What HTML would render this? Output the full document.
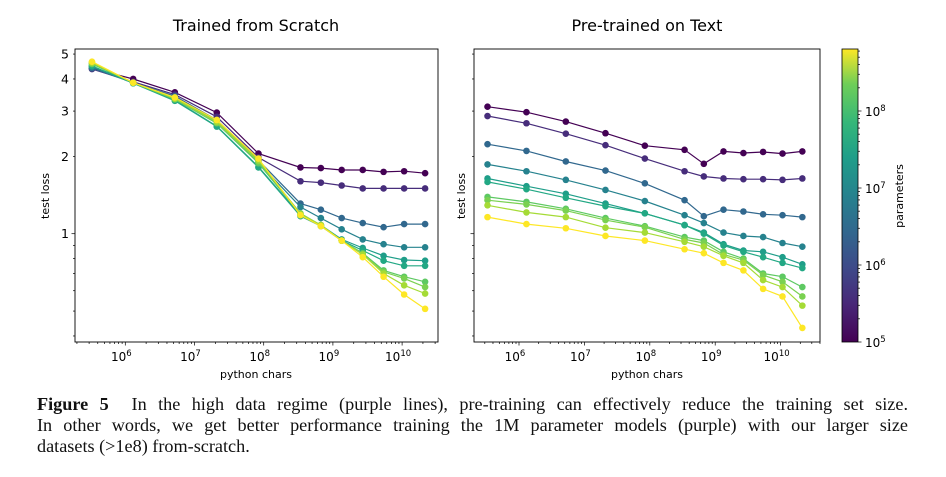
<!DOCTYPE html>
<html><head><meta charset="utf-8">
<style>
body{margin:0;background:#fff;width:946px;height:477px;overflow:hidden;position:relative;font-family:"DejaVu Sans","Liberation Sans",sans-serif}
#cap{position:absolute;left:37px;top:394px;width:871px;font-family:"Liberation Serif",serif;font-size:18.2px;line-height:21px;color:#111}
#cap div{text-align:justify;text-align-last:justify;white-space:nowrap}
#cap div.last{text-align-last:left}
</style></head><body>
<svg id="fig" width="946" height="390" style="position:absolute;left:0;top:0">
<defs><linearGradient id="vir" x1="0" y1="1" x2="0" y2="0">
<stop offset="0" stop-color="#440154"/><stop offset="0.13" stop-color="#482878"/><stop offset="0.25" stop-color="#3e4989"/><stop offset="0.38" stop-color="#31688e"/><stop offset="0.5" stop-color="#26828e"/><stop offset="0.63" stop-color="#1f9e89"/><stop offset="0.75" stop-color="#35b779"/><stop offset="0.88" stop-color="#6ece58"/><stop offset="1" stop-color="#fde725"/></linearGradient></defs>
<text x="256" y="31" font-size="16" text-anchor="middle">Trained from Scratch</text>
<text x="647" y="31" font-size="16" text-anchor="middle">Pre-trained on Text</text>
<text transform="translate(49,196) rotate(-90)" font-size="11" text-anchor="middle">test loss</text>
<text transform="translate(465,196) rotate(-90)" font-size="11" text-anchor="middle">test loss</text>
<text x="256" y="378" font-size="11" text-anchor="middle">python chars</text>
<text x="647" y="378" font-size="11" text-anchor="middle">python chars</text>
<rect x="842" y="49" width="16" height="293" fill="url(#vir)" stroke="#000" stroke-width="0.8"/>
<text transform="translate(903,196) rotate(-90)" font-size="11" text-anchor="middle">parameters</text>
<g id="g"></g>
</svg>
<div id="cap"><div><b>Figure 5</b>&nbsp; In the high data regime (purple lines), pre-training can effectively reduce the training set size.</div><div>In other words, we get better performance training the 1M parameter models (purple) with our larger size</div><div class="last">datasets (&gt;1e8) from-scratch.</div></div>
<script>
const xs=[3.3e5,1.3e6,5.2e6,2.1e7,8.4e7,3.4e8,6.7e8,1.34e9,2.7e9,5.4e9,1.07e10,2.15e10];
const colors=["#440154","#472d7b","#31688e","#26828e","#1f9e89","#22a884","#5ec962","#7ad151","#a5db36","#fde725"];
const scratch0=[4.40,4.00,3.55,2.96,2.05,1.81,1.80,1.77,1.77,1.74,1.75,1.72];
const scratch1=[4.37,3.90,3.48,2.85,1.98,1.60,1.58,1.54,1.50,1.50,1.50,1.50];
const scratch2=[4.40,3.87,3.43,2.77,1.93,1.31,1.24,1.15,1.10,1.06,1.09,1.09];
const scratch3=[4.46,3.87,3.39,2.73,1.89,1.27,1.15,1.04,0.95,0.91,0.885,0.885];
const scratch4=[4.49,3.85,3.31,2.62,1.82,1.18,1.08,0.95,0.88,0.82,0.79,0.785];
const scratch5=[4.49,3.85,3.29,2.61,1.81,1.17,1.07,0.94,0.86,0.785,0.75,0.75];
const scratch6=[4.57,3.87,3.33,2.69,1.88,1.19,1.08,0.94,0.84,0.72,0.68,0.65];
const scratch7=[4.60,3.87,3.35,2.70,1.91,1.20,1.08,0.94,0.83,0.71,0.67,0.62];
const scratch8=[4.63,3.87,3.36,2.73,1.93,1.19,1.08,0.94,0.83,0.70,0.63,0.585];
const scratch9=[4.67,3.87,3.39,2.77,1.96,1.18,1.07,0.94,0.81,0.68,0.58,0.51];
const text0=[3.12,2.97,2.73,2.46,2.20,2.12,1.87,2.09,2.06,2.08,2.05,2.09];
const text1=[2.87,2.69,2.45,2.21,1.96,1.75,1.67,1.64,1.63,1.63,1.62,1.64];
const text2=[2.23,2.10,1.91,1.76,1.57,1.35,1.17,1.24,1.22,1.19,1.18,1.16];
const text3=[1.86,1.75,1.62,1.48,1.34,1.18,1.10,1.01,0.98,0.97,0.92,0.89];
const text4=[1.64,1.53,1.43,1.31,1.20,1.08,1.01,0.91,0.86,0.85,0.81,0.76];
const text5=[1.59,1.49,1.38,1.28,1.20,1.08,1.00,0.90,0.85,0.81,0.77,0.735];
const text6=[1.39,1.33,1.25,1.15,1.07,0.97,0.94,0.85,0.80,0.70,0.68,0.62];
const text7=[1.35,1.30,1.23,1.13,1.06,0.95,0.92,0.83,0.79,0.69,0.65,0.57];
const text8=[1.29,1.21,1.16,1.055,1.01,0.93,0.89,0.82,0.77,0.66,0.62,0.525];
const text9=[1.16,1.09,1.05,0.98,0.94,0.87,0.84,0.77,0.72,0.61,0.57,0.43];
const scratch=[scratch0,scratch1,scratch2,scratch3,scratch4,scratch5,scratch6,scratch7,scratch8,scratch9];
const pretrained=[text0,text1,text2,text3,text4,text5,text6,text7,text8,text9];
const yTickVals=[1,2,3,4,5];
const xTickExps=[6,7,8,9,10];
const cbExps=[5,6,7,8];

const NS="http://www.w3.org/2000/svg";
const G=document.getElementById('g');
function el(t,a,p){const e=document.createElementNS(NS,t);for(const k in a)e.setAttribute(k,a[k]);(p||G).appendChild(e);return e;}
const yTop=49,yBot=342;
function Y(v){return 233.7-Math.log10(v)*257;}
const panels=[
 {name:'scratch',x0:75,x1:438,X:v=>125.3+(Math.log10(v)-6)*69.2,data:scratch,labels:true},
 {name:'pretrained',x0:474,x1:820,X:v=>519+(Math.log10(v)-6)*65.4,data:pretrained,labels:false}
];
panels.forEach(p=>{
  const ax=el('rect',{x:p.x0,y:yTop,width:p.x1-p.x0,height:yBot-yTop,fill:'none',stroke:'#000','stroke-width':0.9});
  
  
  for(let d=-1;d<=0;d++)for(let m=1;m<=9;m++){const v=m*Math.pow(10,d);if(v<0.38||v>5.3)continue;
    const y=Y(v);const maj=(m===1);
    const t=el('line',{x1:p.x0,x2:p.x0-(maj?3.5:2),y1:y,y2:y,stroke:'#000','stroke-width':0.7});
    
    }
  if(p.labels)yTickVals.forEach(v=>{const t=el('text',{x:p.x0-6,y:Y(v)+4.5,'font-size':12.5,'text-anchor':'end'});t.textContent=String(v);
    
    });
  for(let d=5;d<=10;d++)for(let m=1;m<=9;m++){const v=m*Math.pow(10,d);const x=p.X(v);if(x<p.x0||x>p.x1)continue;
    const t=el('line',{x1:x,x2:x,y1:yBot,y2:yBot+(m===1?3.5:2),stroke:'#000','stroke-width':0.7});
    
    }
  xTickExps.forEach(e=>{const x=p.X(Math.pow(10,e));const t=el('text',{x:x-4,y:361,'font-size':12,'text-anchor':'middle'});
    t.textContent='10';const s=el('tspan',{dy:-5,'font-size':8.5},t);s.textContent=String(e);
    
    });
  p.data.forEach((ser,i)=>{
    const pts=ser.map((v,j)=>p.X(xs[j]).toFixed(1)+','+Y(v).toFixed(1)).join(' ');
    const g=el('g',{});
    
    
    el('polyline',{points:pts,fill:'none',stroke:colors[i],'stroke-width':1.2},g);
    ser.forEach((v,j)=>{const c=el('circle',{cx:p.X(xs[j]),cy:Y(v),r:3.3,fill:colors[i]},g);
      
      });
  });
});
function CB(e){return 342-(e-5)*77;}
for(let d=5;d<=8;d++)for(let m=1;m<=9;m++){const e=d+Math.log10(m);const y=CB(e);if(y<49)continue;
  const t=el('line',{x1:858,x2:858+(m===1?3.5:2),y1:y,y2:y,stroke:'#000','stroke-width':0.7});
  
  }
cbExps.forEach(e=>{const t=el('text',{x:865,y:CB(e)+5,'font-size':12});t.textContent='10';
  const s=el('tspan',{dy:-5,'font-size':8.5},t);s.textContent=String(e);
  
  });
</script>
</body></html>
